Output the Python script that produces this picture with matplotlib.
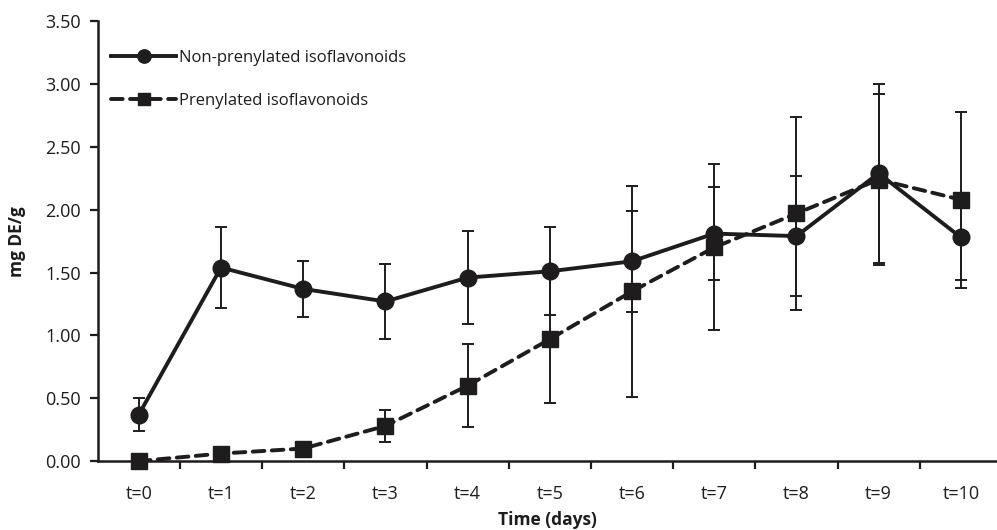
import numpy as np
import matplotlib.pyplot as plt
from matplotlib.ticker import FixedLocator

plt.rcParams['font.family'] = ['Open Sans', 'DejaVu Sans']

labels = ["t=0", "t=1", "t=2", "t=3", "t=4", "t=5", "t=6", "t=7", "t=8", "t=9", "t=10"]
non_pren = [0.37, 1.54, 1.37, 1.27, 1.46, 1.51, 1.59, 1.81, 1.79, 2.29, 1.78]
non_pren_err = [0.13, 0.32, 0.22, 0.30, 0.37, 0.35, 0.40, 0.37, 0.48, 0.71, 0.34]
pren = [0.00, 0.06, 0.10, 0.28, 0.60, 0.97, 1.35, 1.70, 1.97, 2.24, 2.08]
pren_err = [0.00, 0.03, 0.03, 0.13, 0.33, 0.51, 0.84, 0.66, 0.77, 0.68, 0.70]

ink = '#1e1c1d'
x = np.arange(len(labels))

fig = plt.figure(figsize=(9.97, 5.30), dpi=100)
ax = fig.add_axes([0.098, 0.130, 0.902, 0.830])

# error bars first, lines + markers on top
for vals, errs in [(non_pren, non_pren_err), (pren, pren_err)]:
    ax.errorbar(x, vals, yerr=errs, fmt='none', ecolor=ink, elinewidth=1.4,
                capsize=4, capthick=1.4, zorder=2)

ax.plot(x, non_pren, color=ink, linestyle='-', linewidth=2.8, marker='o',
        markersize=12, label='Non-prenylated isoflavonoids', zorder=3, clip_on=False)
ln, = ax.plot(x, pren, color=ink, linestyle=(0, (3.0, 1.9)), linewidth=2.8, marker='s',
              markersize=11, label='Prenylated isoflavonoids', zorder=3, clip_on=False)
ln.set_dash_capstyle('round')

ax.set_xlim(-0.5, 10.44)
ax.set_ylim(0, 3.5)
yt = np.arange(0, 3.51, 0.5)
ax.set_yticks(yt)
ax.set_yticklabels([f"{v:.2f}" for v in yt])
ax.set_xticks(x)
ax.set_xticklabels(labels)
ax.xaxis.set_minor_locator(FixedLocator(x[:-1] + 0.5))
ax.tick_params(axis='x', which='major', length=0, pad=17, labelsize=13, colors=ink)
ax.tick_params(axis='x', which='minor', length=6, width=1.6, color=ink)
ax.tick_params(axis='y', length=6, width=1.6, labelsize=13, colors=ink, pad=6)

for s in ['top', 'right']:
    ax.spines[s].set_visible(False)
for s in ['left', 'bottom']:
    ax.spines[s].set_linewidth(1.8)
    ax.spines[s].set_color(ink)

ax.set_xlabel("Time (days)", fontsize=12.5, fontweight='bold', color=ink, labelpad=6)
ax.set_ylabel("mg DE/g", fontsize=12.5, fontweight='bold', color=ink, labelpad=14)

leg = ax.legend(loc='upper left', bbox_to_anchor=(0.0, 0.965), frameon=False, fontsize=12,
                handlelength=3.9, handletextpad=0.2, labelspacing=1.6, borderaxespad=0.4,
                markerscale=0.8)
for t in leg.get_texts():
    t.set_color(ink)

fig.savefig("out.png", dpi=100)
